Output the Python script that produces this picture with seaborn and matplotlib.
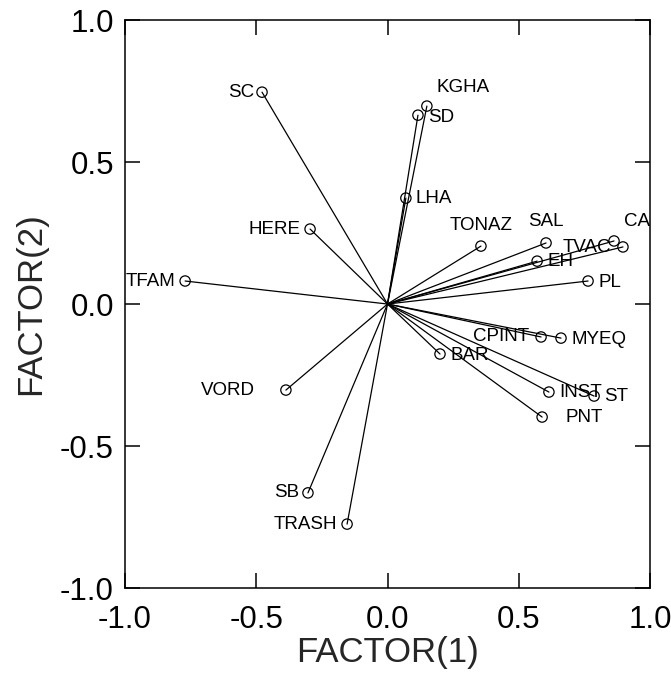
import matplotlib
matplotlib.use("Agg")
import matplotlib.pyplot as plt
import seaborn as sns
import pandas as pd

# Factor loadings for each variable
variables = ["SC", "KGHA", "SD", "LHA", "HERE", "TONAZ", "SAL", "TVAC", "CA", "EH", "PL",
             "TFAM", "MYEQ", "CPINT", "BAR", "INST", "ST", "PNT", "VORD", "SB", "TRASH"]
factor1 = [-0.478, 0.150, 0.116, 0.070, -0.295, 0.356, 0.604, 0.863, 0.897, 0.570, 0.764,
           -0.771, 0.661, 0.585, 0.200, 0.615, 0.787, 0.589, -0.387, -0.303, -0.154]
factor2 = [0.746, 0.697, 0.665, 0.373, 0.264, 0.204, 0.215, 0.222, 0.201, 0.151, 0.081,
           0.081, -0.120, -0.116, -0.176, -0.310, -0.324, -0.398, -0.303, -0.665, -0.775]
ticks = [-1.0, -0.5, 0.0, 0.5, 1.0]
tick_labels = ["-1.0", "-0.5", "0.0", "0.5", "1.0"]

# label placement: (dx, dy) in pixels, horizontal alignment
label_pos = {
    "SC": (-8, 0, "right"), "KGHA": (10, 19, "left"), "SD": (10, -2, "left"),
    "LHA": (10, 0, "left"), "HERE": (-10, 0, "right"), "TONAZ": (0, 21, "center"),
    "SAL": (0, 21, "center"), "TVAC": (-3, -7, "right"), "CA": (1, 25, "left"),
    "EH": (10, 0, "left"), "PL": (10, -1, "left"), "TFAM": (-10, 0, "right"),
    "MYEQ": (10, -1, "left"), "CPINT": (-12, 0, "right"), "BAR": (10, -1, "left"),
    "INST": (10, 0, "left"), "ST": (10, 0, "left"), "PNT": (23, 0, "left"),
    "VORD": (-31, 0, "right"), "SB": (-9, 0, "right"), "TRASH": (-10, 0, "right"),
}

df = pd.DataFrame({"var": variables, "f1": factor1, "f2": factor2})

sns.set_style("ticks")
plt.rcParams["font.family"] = ["Liberation Sans", "DejaVu Sans"]

fig = plt.figure(figsize=(6.71, 6.79), dpi=100)
ax = fig.add_axes([0.1863, 0.1340, 0.9687 - 0.1863, 0.9705 - 0.1340])

for _, r in df.iterrows():
    ax.plot([0, r.f1], [0, r.f2], color="black", lw=0.9, zorder=2)

sns.scatterplot(data=df, x="f1", y="f2", marker="o", s=55, facecolor="none",
                edgecolor="black", linewidth=0.9, ax=ax, zorder=3)

for _, r in df.iterrows():
    dx, dy, ha = label_pos[r["var"]]
    ax.annotate(r["var"], (r.f1, r.f2), xytext=(dx, dy), textcoords="offset pixels",
                ha=ha, va="center", fontsize=13.5, color="black", zorder=4)

ax.set_xlim(-1.0, 1.0)
ax.set_ylim(-1.0, 1.0)
ax.set_xticks(ticks)
ax.set_xticklabels(tick_labels)
ax.set_yticks(ticks)
ax.set_yticklabels(tick_labels)
ax.tick_params(axis="both", direction="in", length=11, width=1.1, labelsize=22.5,
               top=True, right=True, colors="black")
ax.tick_params(axis="x", pad=12)
ax.tick_params(axis="y", pad=8)
for s in ax.spines.values():
    s.set_visible(True)
    s.set_linewidth(1.1)
    s.set_color("black")

ax.set_xlabel("FACTOR(1)", fontsize=25, labelpad=1)
ax.set_ylabel("FACTOR(2)", fontsize=25, labelpad=9)

fig.savefig("out.png", dpi=100)
